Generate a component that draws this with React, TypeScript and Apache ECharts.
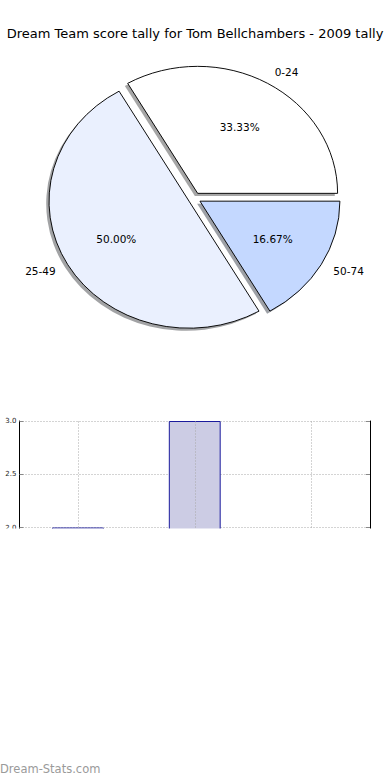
import React, { useEffect, useRef } from "react";
import * as echarts from "echarts";

const titleText = "Dream Team score tally for Tom Bellchambers - 2009 tally";
const categories = ["0-24", "25-49", "50-74"];
const counts = [2, 3, 1];
const pieColors = ["#ffffff", "#eaf0fe", "#c4d8ff"];
const yMin = 0;
const yMax = 3;
const yStep = 0.5;
const watermark = "Dream-Stats.com";

const FONT = "DejaVu Sans";

function shadowOf(hex: string): string {
  const n = parseInt(hex.slice(1), 16);
  const r = Math.round(((n >> 16) & 255) * 0.3);
  const g = Math.round(((n >> 8) & 255) * 0.3);
  const b = Math.round((n & 255) * 0.3);
  return `rgba(${r},${g},${b},0.5)`;
}

export default function App() {
  const ref = useRef<HTMLDivElement>(null);
  useEffect(() => {
    if (!ref.current) return;
    const chart = echarts.init(ref.current, undefined, { renderer: "svg" });
    const total = counts.reduce((a, b) => a + b, 0);
    const cx = 194.5;
    const cy = 198.3;
    const rx = 140;
    const ry = 127;
    const explode = 0.045;
    const k = rx / ry;

    const renderPie = (params: any, api: any) => {
      const i = params.dataIndex;
      const v = api.value(0);
      let before = 0;
      for (let j = 0; j < i; j++) before += counts[j];
      const a1 = (before / total) * Math.PI * 2;
      const a2 = ((before + v) / total) * Math.PI * 2;
      const mid = (a1 + a2) / 2;
      const ox = cx + explode * rx * Math.cos(mid);
      const oy = cy - explode * ry * Math.sin(mid);
      const shape = { cx: 0, cy: 0, r0: 0, r: ry, startAngle: -a2, endAngle: -a1, clockwise: true };
      const pctX = ox + 0.6 * rx * Math.cos(mid);
      const pctY = oy - 0.6 * ry * Math.sin(mid);
      const labX = ox + 1.1 * rx * Math.cos(mid);
      const labY = oy - 1.1 * ry * Math.sin(mid);
      const color = pieColors[i];
      return {
        type: "group",
        children: [
          {
            type: "sector",
            x: ox - 0.02 * rx,
            y: oy + 0.02 * ry,
            scaleX: k,
            shape,
            style: { fill: shadowOf(color) },
            z2: 0,
          },
          {
            type: "sector",
            x: ox,
            y: oy,
            scaleX: k,
            shape,
            style: { fill: color, stroke: "#000", lineWidth: 0.9, strokeNoScale: true },
            z2: 5,
          },
          {
            type: "text",
            x: pctX,
            y: pctY,
            style: {
              text: ((v / total) * 100).toFixed(2) + "%",
              fill: "#000",
              font: `10.5px "${FONT}"`,
              align: "center",
              verticalAlign: "middle",
            },
            z2: 10,
          },
          {
            type: "text",
            x: labX,
            y: labY,
            style: {
              text: categories[i],
              fill: "#000",
              font: `10.5px "${FONT}"`,
              align: Math.cos(mid) > 0 ? "left" : "right",
              verticalAlign: "middle",
            },
            z2: 10,
          },
        ],
      };
    };

    // y = 2.0 sits at 527.5px; 1 unit = 106.5px
    const gridTop = 421;
    const unitPx = 106.5;
    const gridHeight = (yMax - yMin) * unitPx;

    chart.setOption({
      animation: false,
      backgroundColor: "#ffffff",
      title: {
        text: titleText,
        left: "center",
        top: 22,
        textStyle: { fontFamily: FONT, fontSize: 13, fontWeight: "normal", color: "#000" },
      },
      graphic: [
        {
          type: "rect",
          left: 0,
          top: 528.5,
          shape: { width: 390, height: 252 },
          style: { fill: "#ffffff" },
          z: 100,
        },
        {
          type: "text",
          left: 0,
          top: 763,
          style: { text: watermark, fill: "#9a9a9a", font: `11.5px "${FONT}"` },
          z: 101,
        },
      ],
      grid: { left: 19.5, right: 20, top: gridTop, height: gridHeight, containLabel: false },
      xAxis: {
        type: "category",
        data: categories,
        position: "top",
        boundaryGap: true,
        axisLine: { show: true, lineStyle: { color: "#000", width: 1 } },
        axisTick: { show: true, inside: true, length: 4, alignWithLabel: true, lineStyle: { color: "#888" } },
        axisLabel: { show: false },
        splitLine: { show: false },
      },
      yAxis: [
        {
          type: "value",
          min: yMin,
          max: yMax,
          interval: yStep,
          axisLine: { show: true, lineStyle: { color: "#000", width: 1 } },
          axisTick: { show: true, inside: true, length: 4, lineStyle: { color: "#888" } },
          axisLabel: {
            fontFamily: FONT,
            fontSize: 7,
            color: "#222",
            margin: 3,
            formatter: (val: number) => val.toFixed(1),
          },
          splitLine: { show: true, lineStyle: { type: [1, 2], color: "#a8a8a8", width: 1 } },
        },
        {
          type: "value",
          min: yMin,
          max: yMax,
          interval: yStep,
          position: "right",
          axisLine: { show: true, lineStyle: { color: "#000", width: 1 } },
          axisTick: { show: true, inside: true, length: 4, lineStyle: { color: "#888" } },
          axisLabel: { show: false },
          splitLine: { show: false },
        },
      ],
      series: [
        {
          type: "bar",
          data: counts,
          barWidth: "44.4%",
          itemStyle: { color: "#cccce4", borderColor: "#1a1a9c", borderWidth: 1 },
          markLine: {
            silent: true,
            symbol: "none",
            label: { show: false },
            lineStyle: { type: [1, 2], color: "#a8a8a8", width: 1 },
            data: categories.map((c) => ({ xAxis: c })),
          },
        },
        {
          type: "custom",
          coordinateSystem: "none",
          data: counts.map((c) => [c]),
          renderItem: renderPie,
        },
      ],
    });
    return () => chart.dispose();
  }, []);
  return (
    <div
      ref={ref}
      style={{ position: "absolute", left: 0, top: 0, width: 390, height: 780 }}
    />
  );
}
